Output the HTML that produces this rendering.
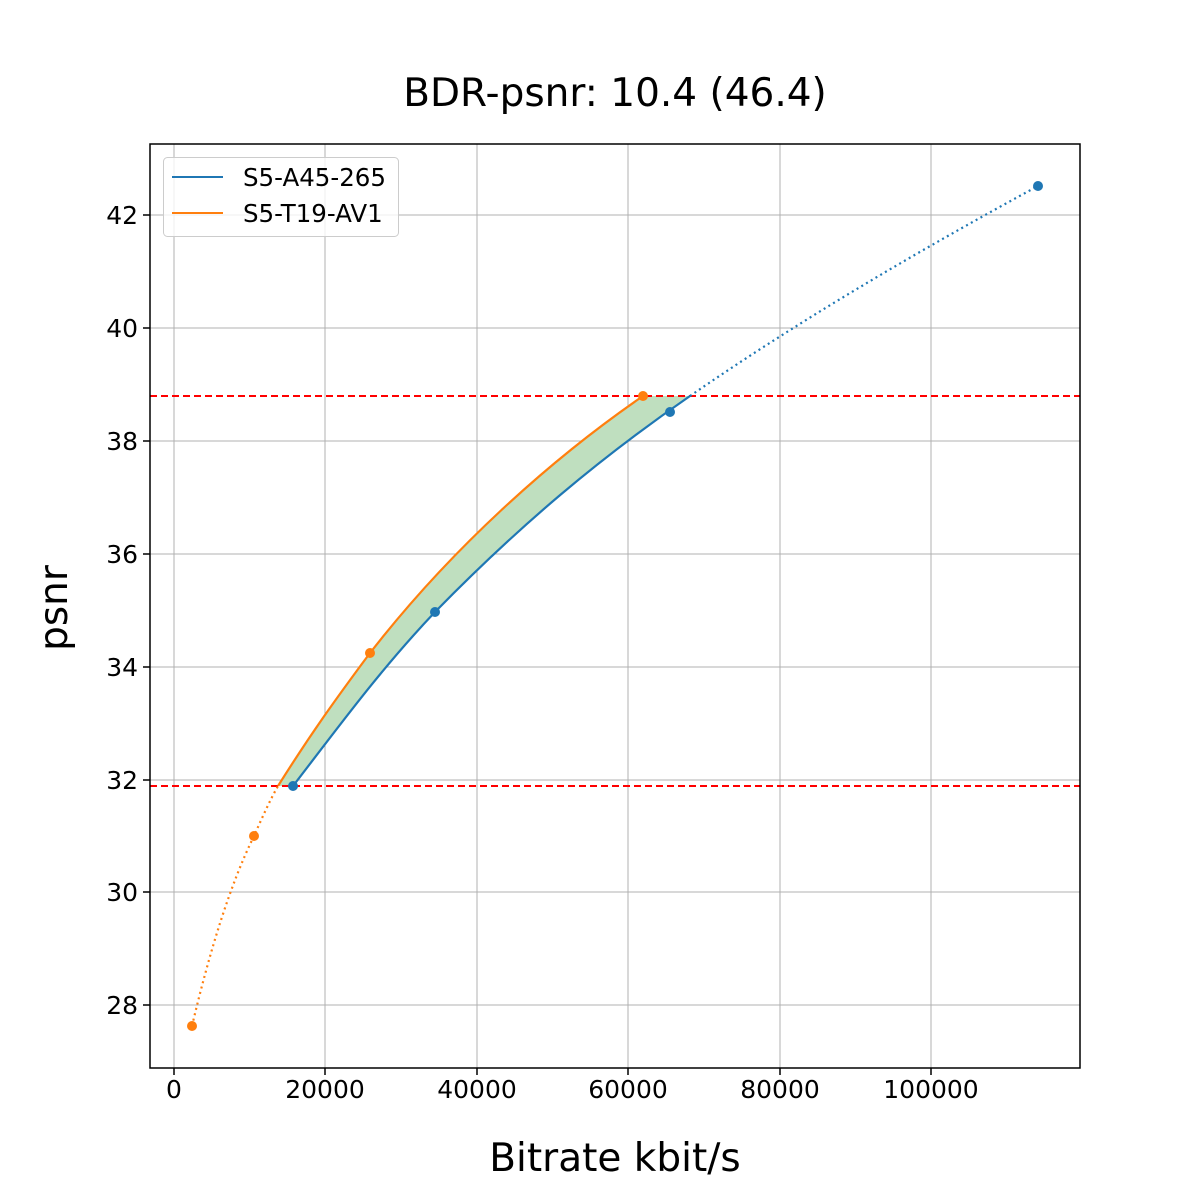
<!DOCTYPE html>
<html><head><style>body{margin:0;background:#fff}svg{display:block}</style></head><body>
<svg width="1200" height="1200" xmlns="http://www.w3.org/2000/svg" font-family="DejaVu Sans, Liberation Sans, sans-serif">
<rect width="1200" height="1200" fill="#fff"/>
<g stroke="#b0b0b0" stroke-width="1">
<line x1="174" y1="144" x2="174" y2="1068"/><line x1="325" y1="144" x2="325" y2="1068"/><line x1="477" y1="144" x2="477" y2="1068"/><line x1="628" y1="144" x2="628" y2="1068"/><line x1="780" y1="144" x2="780" y2="1068"/><line x1="931" y1="144" x2="931" y2="1068"/>
<line x1="150" y1="215" x2="1080" y2="215"/><line x1="150" y1="328" x2="1080" y2="328"/><line x1="150" y1="441" x2="1080" y2="441"/><line x1="150" y1="554" x2="1080" y2="554"/><line x1="150" y1="667" x2="1080" y2="667"/><line x1="150" y1="780" x2="1080" y2="780"/><line x1="150" y1="892" x2="1080" y2="892"/><line x1="150" y1="1005" x2="1080" y2="1005"/>
</g>
<path d="M278,786 C310,735 335,700 370,653 C450,550 550,460 643,396 L690,396 C600,458 520,525 435,612 C380,670 340,725 293,786 Z" fill="#bfdfbf"/>
<line x1="150" y1="396" x2="1080" y2="396" stroke="red" stroke-width="2" stroke-dasharray="7,4"/>
<line x1="150" y1="786" x2="1080" y2="786" stroke="red" stroke-width="2" stroke-dasharray="7,4"/>
<g fill="none" stroke-width="2.2">
<path d="M293,786 C340,725 380,670 435,612 C520,525 600,458 690,396" stroke="#1f77b4"/>
<path d="M690,396 C800,320 920,250 1038,186" stroke="#1f77b4" stroke-dasharray="2,3.5"/>
<path d="M192,1026 C210,950 230,885 254,836 C262,818 270,800 278,786" stroke="#ff7f0e" stroke-dasharray="2,3.5"/>
<path d="M278,786 C310,735 335,700 370,653 C450,550 550,460 643,396" stroke="#ff7f0e"/>
</g>
<g fill="#1f77b4"><circle cx="293" cy="786" r="5"/><circle cx="435" cy="612" r="5"/><circle cx="670" cy="412" r="5"/><circle cx="1038" cy="186" r="5"/></g>
<g fill="#ff7f0e"><circle cx="192" cy="1026" r="5"/><circle cx="254" cy="836" r="5"/><circle cx="370" cy="653" r="5"/><circle cx="643" cy="396" r="5"/></g>
<rect x="150" y="144" width="930" height="924" fill="none" stroke="#000" stroke-width="1.5"/>
<g stroke="#000" stroke-width="1.5">
<line x1="174" y1="1068" x2="174" y2="1075"/><line x1="325" y1="1068" x2="325" y2="1075"/><line x1="477" y1="1068" x2="477" y2="1075"/><line x1="628" y1="1068" x2="628" y2="1075"/><line x1="780" y1="1068" x2="780" y2="1075"/><line x1="931" y1="1068" x2="931" y2="1075"/>
<line x1="143" y1="215" x2="150" y2="215"/><line x1="143" y1="328" x2="150" y2="328"/><line x1="143" y1="441" x2="150" y2="441"/><line x1="143" y1="554" x2="150" y2="554"/><line x1="143" y1="667" x2="150" y2="667"/><line x1="143" y1="780" x2="150" y2="780"/><line x1="143" y1="892" x2="150" y2="892"/><line x1="143" y1="1005" x2="150" y2="1005"/>
</g>
<g font-size="25" text-anchor="middle">
<text x="174" y="1098">0</text><text x="325" y="1098">20000</text><text x="477" y="1098">40000</text><text x="628" y="1098">60000</text><text x="780" y="1098">80000</text><text x="931" y="1098">100000</text>
</g>
<g font-size="25" text-anchor="end">
<text x="138" y="224">42</text><text x="138" y="337">40</text><text x="138" y="450">38</text><text x="138" y="563">36</text><text x="138" y="676">34</text><text x="138" y="789">32</text><text x="138" y="901">30</text><text x="138" y="1014">28</text>
</g>
<text x="615" y="106" font-size="39" text-anchor="middle">BDR-psnr: 10.4 (46.4)</text>
<text x="615" y="1171" font-size="39" text-anchor="middle">Bitrate kbit/s</text>
<text transform="translate(67,608) rotate(-90)" font-size="39" text-anchor="middle">psnr</text>
<rect x="163.5" y="157.5" width="235" height="79" rx="4" fill="#fff" fill-opacity="0.8" stroke="#ccc"/>
<line x1="172" y1="177" x2="223" y2="177" stroke="#1f77b4" stroke-width="2"/>
<line x1="172" y1="213" x2="223" y2="213" stroke="#ff7f0e" stroke-width="2"/>
<text x="243" y="186" font-size="24.5">S5-A45-265</text>
<text x="243" y="222" font-size="24.5">S5-T19-AV1</text>
</svg>
</body></html>
